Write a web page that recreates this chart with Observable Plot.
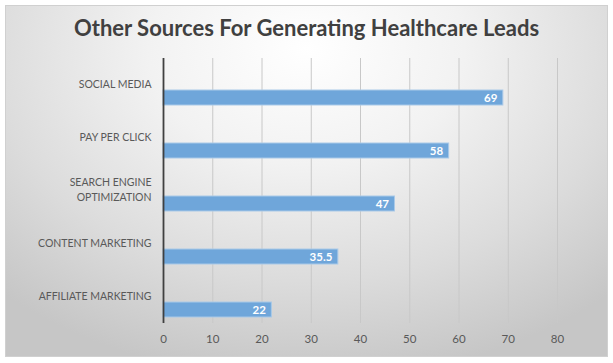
<!DOCTYPE html>
<html>
<head>
<meta charset="utf-8">
<script src="https://cdn.jsdelivr.net/npm/d3@7"></script>
<script src="https://cdn.jsdelivr.net/npm/@observablehq/plot@0.6"></script>
<style>
  html, body { margin: 0; padding: 0; background: #ffffff; }
  #wrap { position: relative; width: 613px; height: 363px; overflow: hidden; font-family: Lato, "Open Sans", sans-serif; }
  #frame { position: absolute; left: 5px; top: 5px; width: 601px; height: 350px; border: 1px solid #d0d0d0;
    background: radial-gradient(ellipse 75% 95% at 50% 12%, #ffffff 0%, #f2f2f2 35%, #dcdcdc 70%, #c6c6c6 100%); }
  #title { position: absolute; left: 0; top: 14px; width: 613px; text-align: center; font-size: 22px; font-weight: 700; color: #404040; }
  #chart { position: absolute; left: 0; top: 0; }
</style>
</head>
<body>
<div id="wrap">
  <div id="frame"></div>
  <div id="title">Other Sources For Generating Healthcare Leads</div>
  <div id="chart"></div>
</div>
<script>
const categories = ["SOCIAL MEDIA", "PAY PER CLICK", "SEARCH ENGINE\nOPTIMIZATION", "CONTENT MARKETING", "AFFILIATE MARKETING"];
const values = [69, 58, 47, 35.5, 22];
const xTicks = [0, 10, 20, 30, 40, 50, 60, 70, 80];

const data = categories.map((c, i) => ({category: c, value: values[i]}));

const chart = Plot.plot({
  width: 613,
  height: 363,
  marginLeft: 163,
  marginRight: 56,
  marginTop: 58,
  marginBottom: 40,
  style: {background: "transparent", fontFamily: "Lato, 'Open Sans', sans-serif", fontSize: "11px", color: "#595959"},
  x: {domain: [0, 80], ticks: xTicks, label: null},
  y: {domain: categories, padding: 0, label: null},
  marks: [
    Plot.gridX(xTicks, {stroke: "#c8c8c8", strokeOpacity: 1, strokeWidth: 1}),
    Plot.axisX(xTicks, {tickSize: 0, tickPadding: 11, fontSize: 11.5, fill: "#595959", label: null}),
    Plot.axisY({tickSize: 0, tickPadding: 12, fontSize: 10.5, fill: "#595959", dy: -2, label: null, lineHeight: 1.4}),
    Plot.barX(data, {x: "value", y: "category", fill: "#6fa6da", stroke: "#a9c9e8", strokeWidth: 1, insetTop: 32, insetBottom: 6}),
    Plot.ruleX([0], {stroke: "#404040", strokeWidth: 1.8}),
    Plot.text(data, {x: "value", y: "category", text: d => String(d.value), textAnchor: "end", dx: -6, dy: 13, fill: "#ffffff", fontWeight: 700, fontSize: 11.5})
  ]
});
document.getElementById("chart").appendChild(chart);
</script>
</body>
</html>
